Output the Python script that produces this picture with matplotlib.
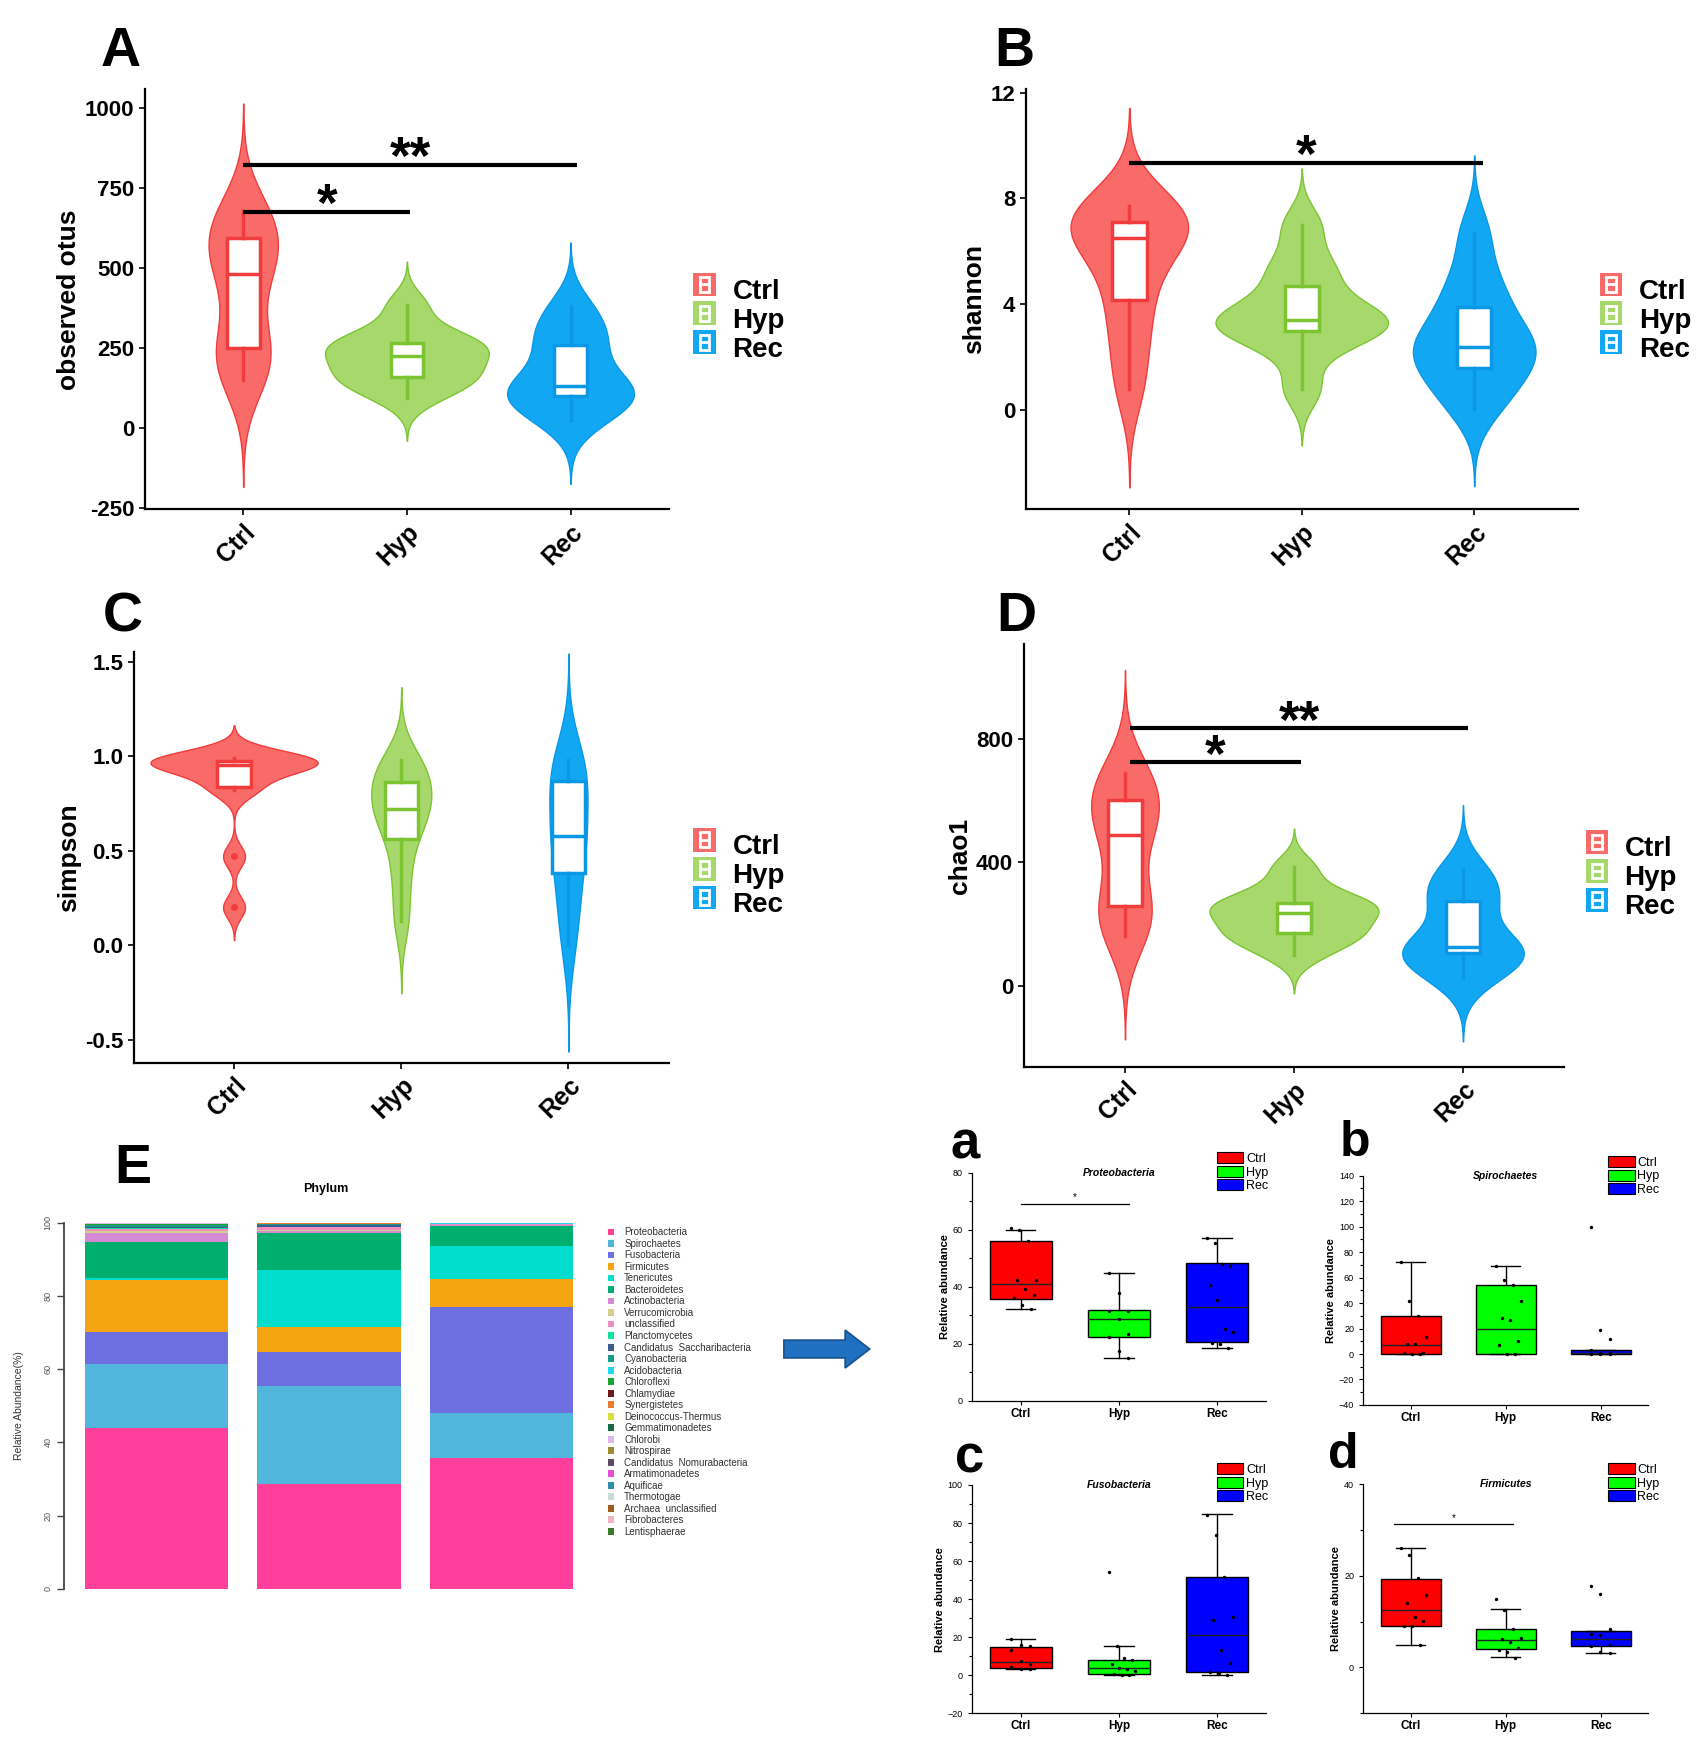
import numpy as np
import matplotlib
matplotlib.use('Agg')
import matplotlib.pyplot as plt
from matplotlib.patches import Patch, Rectangle, FancyArrow
from matplotlib.lines import Line2D
from matplotlib.legend_handler import HandlerBase
from matplotlib.ticker import MultipleLocator, FixedLocator

plt.rcParams['font.family'] = ['Liberation Sans', 'DejaVu Sans']

groups = ['Ctrl', 'Hyp', 'Rec']

# --- alpha diversity samples (read from box/violin shapes) ---
otus_ctrl = [150, 205, 240, 280, 460, 500, 560, 605, 640, 680]
otus_hyp = [95, 140, 155, 175, 215, 235, 255, 270, 300, 385]
otus_rec = [25, 60, 95, 120, 125, 135, 230, 270, 320, 380]

shannon_ctrl = [0.8, 2.5, 3.9, 5.0, 6.3, 6.7, 6.95, 7.15, 7.5, 7.7]
shannon_hyp = [0.8, 2.4, 2.9, 3.3, 3.35, 3.45, 4.0, 4.9, 5.6, 7.0]
shannon_rec = [0.05, 0.9, 1.4, 2.2, 2.3, 2.5, 3.3, 4.1, 5.0, 6.7]

simpson_ctrl = [0.2, 0.47, 0.82, 0.84, 0.92, 0.95, 0.96, 0.97, 0.975, 0.98, 0.985, 0.99]
simpson_hyp = [0.13, 0.35, 0.53, 0.66, 0.70, 0.74, 0.82, 0.88, 0.93, 0.98]
simpson_rec = [0.0, 0.2, 0.33, 0.53, 0.55, 0.61, 0.8, 0.89, 0.94, 0.98]

chao_ctrl = [160, 215, 250, 290, 470, 510, 570, 615, 650, 690]
chao_hyp = [100, 150, 165, 185, 225, 245, 258, 272, 310, 385]
chao_rec = [25, 60, 100, 120, 122, 128, 240, 285, 330, 380]

# --- phylum composition (%) ---
phyla = ['Proteobacteria', 'Spirochaetes', 'Fusobacteria', 'Firmicutes', 'Tenericutes',
         'Bacteroidetes', 'Actinobacteria', 'Verrucomicrobia', 'unclassified', 'Planctomycetes',
         'Candidatus  Saccharibacteria', 'Cyanobacteria', 'Acidobacteria', 'Chloroflexi',
         'Chlamydiae', 'Synergistetes', 'Deinococcus-Thermus', 'Gemmatimonadetes', 'Chlorobi',
         'Nitrospirae', 'Candidatus  Nomurabacteria', 'Armatimonadetes', 'Aquificae',
         'Thermotogae', 'Archaea  unclassified', 'Fibrobacteres', 'Lentisphaerae']
phylum_colors = ['#FF3F9B', '#52B5DB', '#6D6FE0', '#F5A511', '#00DDCC', '#00AE6E', '#D58AD6',
                 '#D2D28A', '#EE8DBF', '#11E59D', '#3D5A8C', '#1A9A8A', '#22D8F0', '#1AA52E',
                 '#6B1B1B', '#EE7B33', '#D7E13A', '#156B45', '#DEB8E8', '#9E8A30', '#5E4B5E',
                 '#E54FD6', '#2C8FA8', '#C9DCD6', '#A05A1E', '#F0B5BE', '#3A7A2C']
ctrl_abund = [44.0, 17.3, 9.0, 14.2, 0.5, 9.9, 2.4, 0.52, 0.5, 0.3, 0.2, 0.5, 0.2, 0.1,
              0.05, 0.05, 0.05, 0.05, 0.03, 0.03, 0.02, 0.02, 0.02, 0.02, 0.02, 0.02, 0.02]
hyp_abund = [28.5, 27.0, 9.2, 6.9, 15.4, 10.2, 0.6, 0.3, 0.7, 0.2, 0.3, 0.3, 0.1, 0.1,
             0.02, 0.02, 0.02, 0.02, 0.02, 0.01, 0.02, 0.01, 0.02, 0.01, 0.01, 0.01, 0.01]
rec_abund = [35.6, 12.5, 28.8, 7.8, 8.9, 5.5, 0.2, 0.1, 0.2, 0.05, 0.1, 0.05, 0.05, 0.05,
             0.01, 0.01, 0.01, 0.01, 0.01, 0.01, 0.01, 0.01, 0.01, 0.01, 0.0, 0.0, 0.0]

# --- differential phyla: box stats [q1, median, q3, low, high] and sample points ---
proteo_box = [[35.8, 40.8, 56.2, 32.2, 60.0], [22.5, 28.6, 31.7, 15.0, 45.0], [20.6, 33.0, 48.5, 18.5, 57.0]]
proteo_pts = [[60.6, 60.0, 56.0, 42.2, 42.2, 39.2, 37.0, 36.0, 33.5, 32.2],
              [45.0, 37.8, 31.5, 31.5, 28.6, 23.5, 22.5, 17.5, 15.0],
              [57.0, 55.3, 48.0, 47.3, 40.5, 35.5, 25.2, 24.0, 20.3, 20.0, 18.5]]
spiro_box = [[0.0, 7.0, 30.0, 0.0, 72.0], [0.0, 19.5, 54.0, 0.0, 69.5], [0.0, 1.0, 3.0, 0.0, 3.0]]
spiro_pts = [[72.0, 41.5, 30.0, 13.5, 7.5, 7.5, 0.5, 0.5, 0.0, 0.0],
             [69.0, 58.5, 54.0, 41.5, 28.0, 27.0, 10.0, 7.0, 0.0, 0.0],
             [99.5, 19.0, 12.0, 3.0, 1.0, 0.5, 0.0, 0.0, 0.0]]
fuso_box = [[4.0, 7.0, 15.0, 3.3, 19.0], [0.5, 4.0, 8.0, 0.0, 15.5], [1.5, 21.0, 51.5, 0.0, 84.5]]
fuso_pts = [[19.0, 16.0, 15.5, 13.0, 7.5, 6.0, 4.5, 3.5, 3.2],
            [54.0, 15.5, 9.0, 8.0, 6.0, 4.0, 3.5, 2.0, 0.5, 0.0, 0.0],
            [84.0, 73.5, 51.5, 30.5, 29.0, 13.0, 6.3, 1.5, 1.0, 0.0]]
firm_box = [[9.0, 12.5, 19.3, 4.8, 26.0], [4.0, 6.0, 8.3, 2.3, 12.7], [4.7, 6.2, 8.0, 3.2, 8.0]]
firm_pts = [[26.0, 24.5, 19.5, 15.8, 14.0, 11.0, 10.2, 9.0, 9.0, 4.8],
            [15.0, 12.5, 8.3, 6.5, 6.3, 5.5, 4.3, 3.8, 3.3, 2.0],
            [17.8, 16.0, 8.3, 7.2, 7.0, 5.0, 4.7, 3.3, 3.2]]

violin_fill = ['#F86B68', '#A6D86B', '#12A7F2']
violin_line = ['#F03C3C', '#7DC433', '#0A98E6']
box_colors = ['#FF0000', '#00FF00', '#0000FF']


class ViolinKey(HandlerBase):
    def create_artists(self, legend, orig, xd, yd, w, h, fontsize, trans):
        bg = Rectangle((xd, yd), w, h, facecolor=orig.get_facecolor(), edgecolor='none', transform=trans)
        box = Rectangle((xd + w * 0.28, yd + h * 0.2), w * 0.44, h * 0.6, facecolor='none',
                        edgecolor='white', lw=2, transform=trans)
        med = Line2D([xd + w * 0.28, xd + w * 0.72], [yd + h * 0.5] * 2, color='white', lw=2, transform=trans)
        return [bg, box, med]


def kde(vals):
    v = np.asarray(vals, float)
    n = len(v)
    q75, q25 = np.percentile(v, [75, 25])
    bw = 0.9 * min(v.std(ddof=1), (q75 - q25) / 1.34) * n ** -0.2
    y = np.linspace(v.min() - 3 * bw, v.max() + 3 * bw, 400)
    d = np.exp(-0.5 * ((y[:, None] - v[None, :]) / bw) ** 2).sum(1) / (n * bw * np.sqrt(2 * np.pi))
    return y, d


def violin_panel(ax, samples, ylim, yticks, yticklabels, ylabel, sig, legend_xy):
    curves = [kde(s) for s in samples]
    peak = max(d.max() for _, d in curves)
    for i, (y, d) in enumerate(curves):
        half = 0.5 * d / peak
        ax.fill_betweenx(y, i + 1 - half, i + 1 + half, facecolor=violin_fill[i],
                         edgecolor=violin_line[i], lw=1, zorder=1)
    for i, s in enumerate(samples):
        ax.boxplot([s], positions=[i + 1], widths=0.2, patch_artist=True, showcaps=False,
                   boxprops=dict(facecolor='white', edgecolor=violin_line[i], lw=2.5),
                   whiskerprops=dict(color=violin_line[i], lw=2.5),
                   medianprops=dict(color=violin_line[i], lw=2.5),
                   flierprops=dict(marker='o', markerfacecolor=violin_line[i], markeredgecolor='none',
                                   markersize=5), zorder=2)
    for x0, x1, y, txt in sig:
        ax.plot([x0, x1], [y, y], color='black', lw=3, solid_capstyle='butt')
        ax.annotate(txt, xy=((x0 + x1) / 2, y), xytext=(0, -7), textcoords='offset points',
                    ha='center', va='baseline', fontsize=38, fontweight='bold')
    ax.set_xlim(0.4, 3.6)
    ax.set_ylim(*ylim)
    ax.set_xticks([1, 2, 3])
    ax.set_xticklabels(groups, rotation=45, ha='right', va='top', rotation_mode='anchor',
                       fontsize=18, fontweight='bold')
    ax.set_yticks(yticks)
    ax.set_yticklabels(yticklabels, fontsize=16, fontweight='bold')
    ax.set_ylabel(ylabel, fontsize=19, fontweight='bold', labelpad=3)
    for sp in ['top', 'right']:
        ax.spines[sp].set_visible(False)
    for sp in ['left', 'bottom']:
        ax.spines[sp].set_linewidth(1.6)
    ax.tick_params(width=1.2, length=4, colors='black')
    handles = [Patch(facecolor=c) for c in violin_fill]
    ax.legend(handles, groups, loc='center left', bbox_to_anchor=legend_xy, bbox_transform=fig.transFigure,
              frameon=False, handler_map={Patch: ViolinKey()}, prop=dict(size=20, weight='bold'),
              handlelength=0.8, handleheight=0.95, labelspacing=0.05, handletextpad=0.6,
              borderpad=0, borderaxespad=0)


def box_panel(ax, box, pts, ylim, major, title, legend_x, legend_y, sig=None):
    stats = [dict(q1=b[0], med=b[1], q3=b[2], whislo=b[3], whishi=b[4], fliers=[]) for b in box]
    bp = ax.bxp(stats, positions=[1, 2, 3], widths=0.63, patch_artist=True, showfliers=False,
                boxprops=dict(edgecolor='black', lw=1), medianprops=dict(color='#222222', lw=1),
                whiskerprops=dict(color='black', lw=1), capprops=dict(color='black', lw=1),
                capwidths=0.3, manage_ticks=False)
    for patch, c in zip(bp['boxes'], box_colors):
        patch.set_facecolor(c)
    for i, p in enumerate(pts):
        n = len(p)
        order = (np.arange(n) * 3) % n
        offs = np.linspace(-0.13, 0.13, n)[order] + 0.03
        ax.scatter(i + 1 + offs, p, s=6, color='black', zorder=3, linewidths=0)
    if sig is not None:
        x0, x1, y = sig
        ax.plot([x0, x1], [y, y], color='black', lw=0.9)
        ax.annotate('*', xy=((x0 + x1) / 2, y), xytext=(0, 1), textcoords='offset points',
                    ha='center', va='bottom', fontsize=7)
    ax.text(2.0, 1.0, title, transform=ax.get_xaxis_transform(), ha='center', va='center',
            fontsize=7.5, fontweight='bold', fontstyle='italic')
    ax.set_xlim(0.5, 3.5)
    ax.set_ylim(*ylim)
    ax.set_xticks([1, 2, 3])
    ax.set_xticklabels(groups, fontsize=8.5, fontweight='bold')
    ax.yaxis.set_major_locator(FixedLocator(major))
    ax.yaxis.set_minor_locator(MultipleLocator(10))
    ax.tick_params(axis='y', labelsize=6.5, length=3, width=0.8)
    ax.tick_params(axis='y', which='minor', length=2, width=0.8)
    ax.tick_params(axis='x', length=3, width=0.8, pad=2)
    ax.set_ylabel('Relative abundance', fontsize=8, fontweight='bold', labelpad=2)
    for sp in ['top', 'right']:
        ax.spines[sp].set_visible(False)
    for sp in ['left', 'bottom']:
        ax.spines[sp].set_linewidth(0.9)
    handles = [Patch(facecolor=c, edgecolor='black', lw=0.8) for c in box_colors]
    ax.legend(handles, groups, loc='upper left', bbox_to_anchor=(legend_x, legend_y), frameon=False,
              fontsize=9, handlelength=2.1, handleheight=1.0, labelspacing=0.05, handletextpad=0.2,
              borderpad=0, borderaxespad=0)


fig = plt.figure(figsize=(17.06, 17.47), dpi=100)

axA = fig.add_axes([0.085, 0.7084, 0.307, 0.2406])
violin_panel(axA, [otus_ctrl, otus_hyp, otus_rec], (-255, 1060), [-250, 0, 250, 500, 750, 1000],
             ['-250', '0', '250', '500', '750', '1000'], 'observed otus',
             [(1.0, 3.04, 824, '**'), (1.0, 2.02, 677, '*')], (0.4065, 0.8168))

axB = fig.add_axes([0.6013, 0.7084, 0.3235, 0.2406])
violin_panel(axB, [shannon_ctrl, shannon_hyp, shannon_rec], (-3.75, 12.13), [0, 4, 8, 12],
             ['0', '4', '8', '12'], 'shannon', [(1.0, 3.05, 9.35, '*')], (0.938, 0.8168))

axC = fig.add_axes([0.0784, 0.3918, 0.3136, 0.2349])
violin_panel(axC, [simpson_ctrl, simpson_hyp, simpson_rec], (-0.62, 1.55), [-0.5, 0.0, 0.5, 1.0, 1.5],
             ['-0.5', '0.0', '0.5', '1.0', '1.5'], 'simpson', [], (0.4065, 0.499))

axD = fig.add_axes([0.600, 0.3893, 0.317, 0.2418])
violin_panel(axD, [chao_ctrl, chao_hyp, chao_rec], (-264, 1108), [0, 400, 800],
             ['0', '400', '800'], 'chao1', [(1.03, 3.03, 836, '**'), (1.03, 2.04, 727, '*')],
             (0.9294, 0.4978))

# --- stacked phylum bars ---
axE = fig.add_axes([0.0373, 0.0906, 0.3072, 0.2094])
bar_x = [0.7, 1.9, 3.1]
abund = np.array([ctrl_abund, hyp_abund, rec_abund])
bottom = np.zeros(3)
for j, name in enumerate(phyla):
    axE.bar(bar_x, abund[:, j], width=1.0, bottom=bottom, color=phylum_colors[j], lw=0, label=name)
    bottom += abund[:, j]
axE.set_xlim(0.054, 3.7)
axE.set_ylim(0, 100)
axE.set_xticks([])
axE.set_yticks([0, 20, 40, 60, 80, 100])
axE.set_yticklabels(['0', '20', '40', '60', '80', '100'], rotation=90, va='center', fontsize=6.5,
                    color='#555555')
axE.tick_params(axis='y', length=5, width=1, color='#444444', pad=3)
for sp in ['top', 'right', 'bottom']:
    axE.spines[sp].set_visible(False)
axE.spines['left'].set_color('#444444')
axE.spines['left'].set_linewidth(1.3)
axE.set_ylabel('Relative Abundance(%)', fontsize=7.5, color='#333333', labelpad=14)
axE.set_title('Phylum', fontsize=9, fontweight='bold', pad=22)
axE.legend(loc='upper left', bbox_to_anchor=(0.3562, 0.2974), bbox_transform=fig.transFigure,
           frameon=False, fontsize=7, handlelength=0.7, handleheight=0.7, labelspacing=0.155,
           handletextpad=1.0, borderpad=0, borderaxespad=0, labelcolor='#333333')

# --- arrow ---
fig.add_artist(FancyArrow(0.4595, 0.2278, 0.0503, 0, width=0.0102, head_width=0.0217,
                          head_length=0.0144, length_includes_head=True, transform=fig.transFigure,
                          facecolor='#1F70C1', edgecolor='#1A4F8A', lw=1.2))

# --- differential phyla boxes ---
axa = fig.add_axes([0.5696, 0.1982, 0.1725, 0.1305])
box_panel(axa, proteo_box, proteo_pts, (0, 80), [0, 20, 40, 60, 80], 'Proteobacteria', 0.834, 1.09,
          sig=(1.0, 2.1, 69.1))
axb = fig.add_axes([0.7990, 0.1958, 0.1671, 0.1312])
box_panel(axb, spiro_box, spiro_pts, (-40, 140), list(range(-40, 141, 20)), 'Spirochaetes', 0.86, 1.086)
axc = fig.add_axes([0.5696, 0.0193, 0.1725, 0.1307])
box_panel(axc, fuso_box, fuso_pts, (-20, 100), list(range(-20, 101, 20)), 'Fusobacteria', 0.834, 1.095)
axd = fig.add_axes([0.7990, 0.0193, 0.1671, 0.1311])
box_panel(axd, firm_box, firm_pts, (-10, 40), [0, 20, 40], 'Firmicutes', 0.86, 1.092,
          sig=(0.82, 2.08, 31.3))

# --- panel letters ---
for lab, x, y, fs in [('A', 0.071, 0.970, 40), ('B', 0.5948, 0.970, 40), ('C', 0.072, 0.6468, 40),
                      ('D', 0.596, 0.6468, 40), ('E', 0.0776, 0.3308, 40), ('a', 0.566, 0.3446, 38),
                      ('b', 0.7941, 0.3459, 36), ('c', 0.5686, 0.1653, 38), ('d', 0.7876, 0.1672, 36)]:
    fig.text(x, y, lab, fontsize=fs, fontweight='bold', ha='center', va='center')

fig.savefig('out.png', dpi=100)
